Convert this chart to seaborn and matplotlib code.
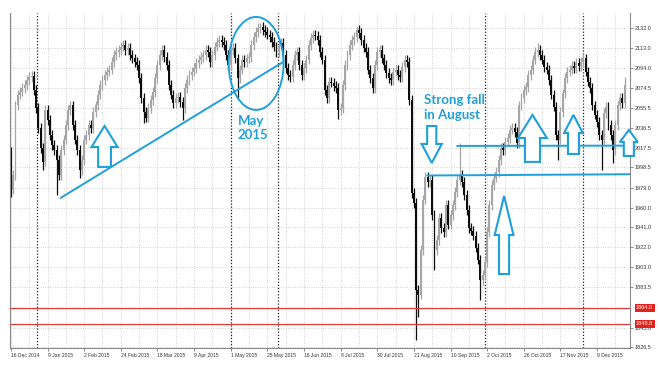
import numpy as np
import pandas as pd
import matplotlib
matplotlib.use("Agg")
import matplotlib.pyplot as plt
from matplotlib.patches import Ellipse, Polygon
from matplotlib.transforms import blended_transform_factory
import seaborn as sns

# ---------------- data ----------------
first_open = 2016.0
closes = [
    1977, 1991, 2058, 2068, 2071, 2074.5, 2077.5, 2082, 2085, 2086,
    2072.5, 2055.5, 2036, 2017, 2004, 2053.5, 2044, 2029.5, 2020, 2015,
    2005.5, 1991, 2015, 2025, 2039, 2053.5, 2058, 2039, 2025, 2015,
    1996, 2005.5, 2025, 2029.5, 2039, 2036, 2051.5, 2058, 2068, 2077.5,
    2082, 2087, 2090, 2092, 2099.5, 2106, 2109, 2111, 2114, 2115.5,
    2111, 2113, 2106, 2103, 2099.5, 2096.5, 2084, 2065, 2051.5, 2046,
    2055.5, 2063, 2070.5, 2084, 2096.5, 2106, 2111, 2104, 2096.5, 2077.5,
    2068, 2060, 2065, 2066, 2061, 2055.5, 2074.5, 2082, 2087, 2090,
    2093.5, 2098.5, 2101.5, 2104, 2106, 2111, 2109, 2099.5, 2106, 2114,
    2118.5, 2120.5, 2118.5, 2115.5, 2106, 2096.5, 2111, 2113, 2103, 2084,
    2092, 2101.5, 2099.5, 2103, 2104, 2115.5, 2123.5, 2128, 2132, 2133,
    2130, 2128, 2125.5, 2123.5, 2118.5, 2114, 2109, 2115.5, 2117.5, 2106,
    2093.5, 2087, 2085, 2096.5, 2106, 2109, 2096.5, 2087, 2093.5, 2101.5,
    2115.5, 2122.5, 2125.5, 2124.5, 2120.5, 2109, 2101.5, 2072.5, 2065, 2080.5,
    2079.5, 2076.5, 2074.5, 2053.5, 2055.5, 2077.5, 2096.5, 2106, 2115.5, 2120.5,
    2123.5, 2130, 2127, 2120.5, 2113, 2109, 2092, 2084, 2074.5, 2096.5,
    2109, 2111, 2103, 2096.5, 2089, 2084, 2082, 2090, 2092, 2087,
    2085, 2094.5, 2101.5, 2099.5, 2063, 1974, 1964.5, 1881, 1876.5, 1919.5,
    1967.5, 1989.5, 1984.5, 1986.5, 1953, 1919.5, 1929, 1950, 1940.5, 1936.5,
    1962.5, 1943.5, 1953, 1962.5, 1975, 1986.5, 1991, 1984.5, 1972, 1957.5,
    1940.5, 1938, 1933, 1921.5, 1910, 1890.5, 1895.5, 1908, 1936.5, 1962.5,
    1981.5, 1988.5, 1994, 2005.5, 2017, 2015, 2023, 2026.5, 2034.5, 2036,
    2032.5, 2022, 2058, 2065, 2072.5, 2075.5, 2087, 2092, 2101.5, 2109,
    2111, 2106, 2101.5, 2094.5, 2092, 2082, 2068, 2056.5, 2029.5, 2025,
    2051.5, 2069.5, 2084, 2090, 2092, 2095.5, 2093.5, 2098.5, 2095.5, 2099.5,
    2103, 2090, 2080.5, 2074.5, 2058, 2049, 2042, 2029.5, 2025, 2050.5,
    2056.5, 2039, 2029.5, 2015, 2039, 2058, 2065, 2060, 2077.5,
]
hi_bars = [0, 109, 151, 196, 230, 268]
hi_vals = [2018, 2137, 2133, 2022, 2117.5, 2085]
lo_bars = [0, 14, 20, 30, 58, 75, 99, 143, 177, 178, 185, 205, 239, 258, 263]
lo_vals = [1970, 1996, 1972, 1988, 2041, 2044, 2064, 2045, 1833, 1855, 1900, 1871.5, 2005.5, 1996, 2003]

date_labels = ["16 Dec 2014", "9 Jan 2015", "2 Feb 2015", "24 Feb 2015", "18 Mar 2015",
               "9 Apr 2015", "1 May 2015", "25 May 2015", "16 Jun 2015", "8 Jul 2015",
               "30 Jul 2015", "21 Aug 2015", "10 Sep 2015", "2 Oct 2015", "26 Oct 2015",
               "17 Nov 2015", "9 Dec 2015"]
price_ticks = [2132.0, 2113.0, 2094.0, 2074.5, 2055.5, 2036.5, 2017.5, 1998.5, 1979.0,
               1960.0, 1941.0, 1922.0, 1903.0, 1883.5, 1845.0, 1826.5]
red_levels = [1864.0, 1848.8]
support_levels = [1991.0, 2019.0]

# ---------------- build OHLC ----------------
n = len(closes)
c = np.array(closes, dtype=float)
o = np.concatenate([[first_open], c[:-1]])
wick = 4.5
h = np.maximum(o, c) + wick
l = np.minimum(o, c) - wick
for b, v in zip(hi_bars, hi_vals):
    h[b] = v
for b, v in zip(lo_bars, lo_vals):
    l[b] = v
df = pd.DataFrame({"i": np.arange(n), "open": o, "close": c, "high": h, "low": l})

# ---------------- figure ----------------
sns.set_theme(style="white")
plt.rcParams["font.family"] = ["Liberation Sans", "DejaVu Sans"]
fig = plt.figure(figsize=(6.6, 3.66), dpi=100)
ax = fig.add_axes([10 / 660, 1 - 348 / 366, 620 / 660, 335 / 366])
ax.set_facecolor("white")
ax.set_xlim(-0.4, 270.4)
ax.set_ylim(1825.5, 2146.3)

# grid
for p in price_ticks:
    ax.axhline(p, color="#c4c4c4", lw=0.6, ls=(0, (1, 1.8)), zorder=0.5)
for gx in np.arange(0, 270, 8):
    ax.axvline(gx, color="#c4c4c4", lw=0.6, ls=(0, (1, 1.8)), zorder=0.5)
for gx in [11.2, 96, 116.8, 207.1, 249.9]:
    ax.axvline(gx, color="#222222", lw=0.9, ls=(0, (1, 1.5)), zorder=0.6)

# candles
bull = df["close"] >= df["open"]
cols = np.where(bull, "#a6a6a6", "#0d0d0d")
ax.vlines(df["i"], df["low"], df["high"], colors=cols, lw=0.9, zorder=2)
body_b = np.minimum(df["open"], df["close"])
body_h = np.maximum(np.abs(df["close"] - df["open"]), 0.9)
ax.bar(df["i"], body_h, bottom=body_b, width=0.85, color=cols, linewidth=0, zorder=2.1)

# red levels
for lv in red_levels:
    ax.axhline(lv, color="#e03a3a", lw=0.9, zorder=3)

blue = "#1fa0dc"
# trend line and support lines via seaborn
trend = pd.DataFrame({"x": [21.7, 118.9], "y": [1969.2, 2099.4]})
sns.lineplot(data=trend, x="x", y="y", ax=ax, color=blue, lw=1.4, estimator=None, sort=False, zorder=4)
sup = pd.DataFrame({"x": [181.8, 270.4, 194.9, 270.4],
                    "y": [support_levels[0] - 0.3, support_levels[0] + 0.9, support_levels[1], support_levels[1] + 0.3],
                    "g": ["a", "a", "b", "b"]})
for g, d in sup.groupby("g"):
    sns.lineplot(data=d, x="x", y="y", ax=ax, color=blue, lw=1.4, estimator=None, sort=False, zorder=4)
ax.set_xlabel("")
ax.set_ylabel("")

# ellipse
ax.add_patch(Ellipse((107.1, 2098), 24, 89, fill=False, ec=blue, lw=1.4, zorder=4))

def block_arrow(cx, tip, base, tail, head_half, shaft_half):
    pts = [(cx, tip), (cx + head_half, base), (cx + shaft_half, base), (cx + shaft_half, tail),
           (cx - shaft_half, tail), (cx - shaft_half, base), (cx - head_half, base)]
    ax.add_patch(Polygon(pts, closed=True, fc="white", ec=blue, lw=1.5, zorder=5, clip_on=False))

block_arrow(40.9, 2038.1, 2018.0, 1998.9, 5.7, 2.8)
block_arrow(183.8, 2002.7, 2020.9, 2038.1, 4.4, 2.0)
block_arrow(215.4, 1971.1, 1933.7, 1896.4, 4.1, 2.2)
block_arrow(227.8, 2048.7, 2026.6, 2003.7, 6.3, 3.3)
block_arrow(245.7, 2048.7, 2031.4, 2011.3, 4.1, 2.4)
block_arrow(269.9, 2034.3, 2022.8, 2009.4, 3.9, 2.2)

# annotation texts
ax.text(99, 2036, "May\n2015", color=blue, fontsize=9.5, fontweight="bold", family=["Lato", "DejaVu Sans"],
        ha="left", va="center", linespacing=1.25, zorder=6)
ax.text(180.5, 2055.5, "Strong fall\nin August", color=blue, fontsize=9.5, fontweight="bold",
        family=["Lato", "DejaVu Sans"], ha="left", va="center", linespacing=1.3, zorder=6)

# axes styling
ax.spines["top"].set_visible(False)
for s in ["left", "bottom", "right"]:
    ax.spines[s].set_color("#8a8a8a")
    ax.spines[s].set_linewidth(0.8)
ax.yaxis.tick_right()
ax.set_yticks(price_ticks)
ax.set_yticklabels([f"{p:.1f}" for p in price_ticks])
ax.set_xticks(np.arange(len(date_labels)) * 16)
ax.set_xticklabels(date_labels, ha="left")
ax.tick_params(axis="y", which="both", right=True, left=False, length=2, width=0.6, color="#777777",
               labelsize=4, labelcolor="#333333", pad=1.5)
ax.tick_params(axis="x", which="both", bottom=True, length=2, width=0.6, color="#777777",
               labelsize=3.6, labelcolor="#333333", pad=1.5)

# red price labels on the right axis
tr = blended_transform_factory(ax.transAxes, ax.transData)
for lv in red_levels:
    ax.text(1.0 + 6 / 620, lv, f"{lv:.1f}", transform=tr, color="white", fontsize=4, ha="left", va="center",
            bbox=dict(boxstyle="square,pad=0.25", fc="#e3221c", ec="none"), zorder=10, clip_on=False)

fig.savefig("out.png", dpi=100)
